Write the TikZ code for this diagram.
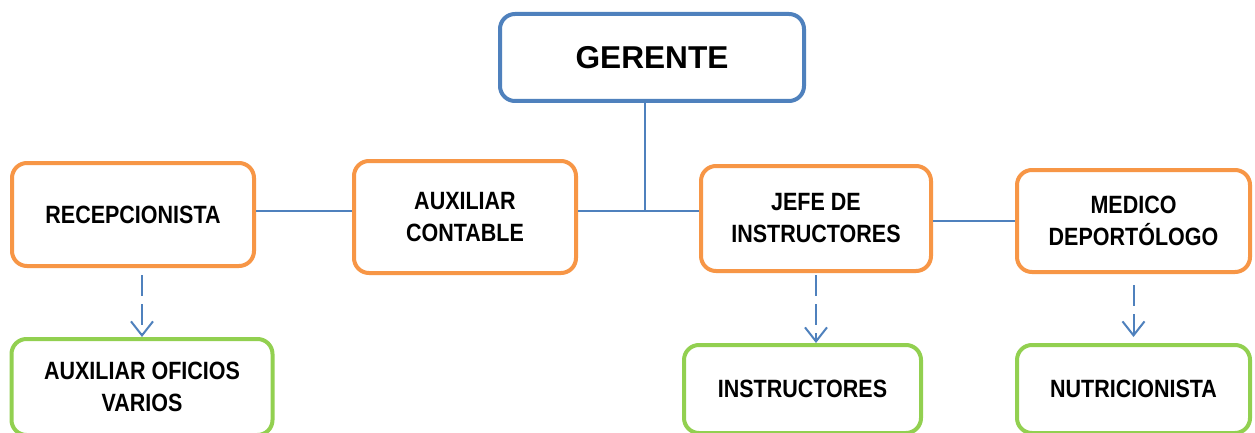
\documentclass[tikz,border=0pt]{standalone}
\usepackage{fontspec}
\setmainfont{Liberation Sans}
\newfontfamily\nar[FakeStretch=0.86]{Liberation Sans}
\usetikzlibrary{arrows.meta}
\definecolor{cblue}{HTML}{4F81BD}
\definecolor{corange}{HTML}{F79646}
\definecolor{cgreen}{HTML}{92D050}
\tikzset{
  box/.style={draw, line width=4pt, rounded corners=15pt, fill=white, align=center, inner sep=0pt,
    font=\nar\bfseries\fontsize{25}{32}\selectfont},
  topbox/.style={box, draw=cblue, font=\bfseries\fontsize{31.6}{36}\selectfont},
  midbox/.style={box, draw=corange},
  lowbox/.style={box, draw=cgreen},
  conn/.style={draw=cblue, line width=2pt},
  darr/.style={draw=cblue, line width=2pt, dash pattern=on 21pt off 8pt,
    -{Straight Barb[length=14pt,width=22pt,line width=2pt]}}
}
\begin{document}
\begin{tikzpicture}[x=1pt,y=1pt]
\useasboundingbox (0,0) rectangle (1255,432);
\clip (0,0) rectangle (1255,432);
\fill[white] (0,0) rectangle (1255,432);
\node[topbox, minimum width=304pt, minimum height=87pt] (ger) at (652,374.5) {GERENTE};
\node[midbox, minimum width=242pt, minimum height=103pt] (rec) at (133,217.5) {RECEPCIONISTA};
\node[midbox, minimum width=222pt, minimum height=112pt] (aux) at (465,215) {AUXILIAR\\CONTABLE};
\node[midbox, minimum width=230pt, minimum height=105pt] (jefe) at (816,213.5) {JEFE DE\\INSTRUCTORES};
\node[midbox, minimum width=233pt, minimum height=102pt] (med) at (1133.5,211) {MEDICO\\DEPORTÓLOGO};
\node[lowbox, minimum width=261pt, minimum height=96pt] (aof) at (142,45) {AUXILIAR OFICIOS\\VARIOS};
\node[lowbox, minimum width=237pt, minimum height=88pt] (ins) at (802.5,43) {INSTRUCTORES};
\node[lowbox, minimum width=233pt, minimum height=88pt] (nut) at (1133.5,43) {NUTRICIONISTA};
\coordinate (j) at (645,221);
\draw[conn] (ger.south -| j) -- (j);
\draw[conn] (aux.east |- j) -- (jefe.west |- j);
\draw[conn] (rec.east |- j) -- (aux.west |- j);
\draw[conn] (jefe.east |- med) -- (med.west);
\draw[darr] ([yshift=-7pt]rec.south -| aof.north) -- (aof.north);
\draw[darr] ([yshift=-2pt]jefe.south) -- (jefe.south |- ins.north);
\draw[darr] ([yshift=-11pt]med.south) -- ([yshift=6pt]nut.north);
\end{tikzpicture}
\end{document}
